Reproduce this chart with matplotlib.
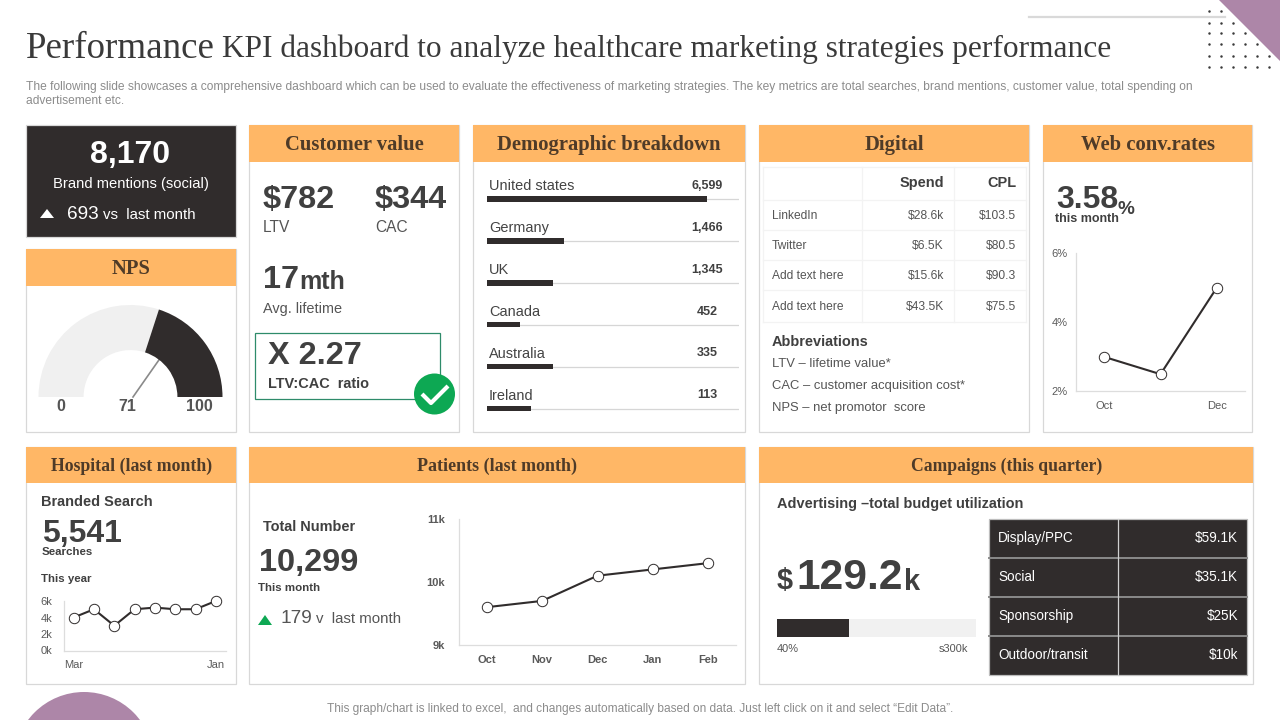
import matplotlib
matplotlib.use('Agg')
import matplotlib.pyplot as plt
from matplotlib.patches import Rectangle, Polygon, Circle

plt.rcParams['font.family'] = ['Liberation Sans', 'DejaVu Sans']

ORANGE = '#FFB766'
DARK = '#302C2C'
TEXT = '#404040'
BORDER = '#D8D8D8'
HEAD = '#4F3B28'
GREY = '#8C8C8C'
PURPLE = '#AD86A8'
GREEN = '#0DA853'

# data
gauge_parts = [60, 40, 100]  # light, dark, hidden lower half
gauge_labels = ['0', '71', '100']

demo_names = ['United states', 'Germany', 'UK', 'Canada', 'Australia', 'Ireland']
demo_values = ['6,599', '1,466', '1,345', '452', '335', '113']
demo_bars = [87.3, 30.6, 26.2, 13.1, 26.2, 17.5]

digital_names = ['LinkedIn', 'Twitter', 'Add text here', 'Add text here']
digital_spend = ['$28.6k', '$6.5K', '$15.6k', '$43.5K']
digital_cpl = ['$103.5', '$80.5', '$90.3', '$75.5']
abbreviations = ['LTV – lifetime value*', 'CAC – customer acquisition cost*', 'NPS – net promotor  score']

web_months = ['Oct', '', 'Dec']
web_rates = [3.0, 2.5, 5.0]

search_months = ['Mar', '', '', '', '', '', '', 'Jan']
search_values = [4, 5, 3, 5, 5.2, 5, 5, 6]

patient_months = ['Oct', 'Nov', 'Dec', 'Jan', 'Feb']
patient_values = [9.6, 9.7, 10.1, 10.2, 10.3]

budget_used = 36
campaign_names = ['Display/PPC', 'Social', 'Sponsorship', 'Outdoor/transit']
campaign_spend = ['$59.1K', '$35.1K', '$25K', '$10k']

fig = plt.figure(figsize=(12.8, 7.2), dpi=100, facecolor='white')

# full-figure axes in pixel coordinates for the slide furniture
bg = fig.add_axes([0, 0, 1, 1])
bg.set_xlim(0, 1280)
bg.set_ylim(720, 0)
bg.axis('off')


def txt(x, y, s, px, color=TEXT, weight='normal', ha='left', family=None):
    return bg.text(x, y + px * 0.07, s, fontsize=px * 0.72, color=color, fontweight=weight, ha=ha,
                   va='center', family=family or ['Liberation Sans', 'DejaVu Sans'], zorder=5)


def panel(l, t, r, b, title=None, head_b=None, px=20.6):
    r -= 0.7
    b -= 0.5
    bg.add_patch(Rectangle((l, t), r - l, b - t, fc='white', ec=BORDER, lw=0.9))
    if title:
        bg.add_patch(Rectangle((l, t), r - l, head_b - t, fc=ORANGE, ec='none', zorder=2))
        txt((l + r) / 2, (t + head_b) / 2, title, px, HEAD, 'bold', 'center', 'Liberation Serif')


def px_axes(l, t, r, b):
    ax = fig.add_axes([l / 1280, 1 - b / 720, (r - l) / 1280, (b - t) / 720])
    ax.patch.set_alpha(0)
    return ax


def line_chart(box, months, values, ylim, yticks, ylabels, xpad, ypad, bold=False):
    ax = px_axes(*box)
    xs = list(range(len(months)))
    ax.plot(xs, values, color=DARK, lw=1.5, marker='o', ms=7.5, mfc='white', mec=DARK, mew=0.7,
            clip_on=False)
    ax.set_xlim(-0.5, len(months) - 0.5)
    ax.set_ylim(*ylim)
    ax.set_xticks(xs)
    ax.set_xticklabels(months, fontweight='bold' if bold else 'normal')
    ax.set_yticks(yticks)
    ax.set_yticklabels(ylabels, fontweight='bold' if bold else 'normal')
    ax.tick_params(length=0, labelsize=8, labelcolor='#5A5A5A')
    ax.tick_params(axis='x', pad=xpad)
    ax.tick_params(axis='y', pad=ypad)
    for side in ['top', 'right']:
        ax.spines[side].set_visible(False)
    for side in ['left', 'bottom']:
        ax.spines[side].set_color('#DDDDDD')
        ax.spines[side].set_linewidth(0.9)
    return ax


# decoration
bg.plot([1029, 1225], [17, 17], color='#D9D9D9', lw=1.6)
for row_y in [11, 23, 33, 44, 56, 67]:
    bg.scatter([1209, 1221, 1233, 1245, 1257, 1269], [row_y] * 6, s=3.2, color='#3A3A3A', lw=0, zorder=2)
bg.add_patch(Polygon([(1219, 0), (1280, 0), (1280, 61)], fc=PURPLE, ec='none', zorder=3))
bg.add_patch(Circle((84, 762), 70, fc=PURPLE, ec='none'))

# title and intro
txt(26, 46, 'Performance', 37, '#3A3A3A', family='Liberation Serif')
txt(222, 47, 'KPI dashboard to analyze healthcare marketing strategies performance', 31.4, '#3A3A3A',
    family='Liberation Serif')
txt(26, 86, 'The following slide showcases a comprehensive dashboard which can be used to evaluate the '
    'effectiveness of marketing strategies. The key metrics are total searches, brand mentions, customer '
    'value, total spending on', 12, GREY)
txt(26, 100, 'advertisement etc.', 12, GREY)

# brand mentions box
bg.add_patch(Rectangle((26, 125), 209.5, 111.5, fc=DARK, ec=BORDER, lw=0.9))
txt(130.5, 152.5, '8,170', 32, 'white', 'bold', 'center')
txt(130.5, 183, 'Brand mentions (social)', 14.7, 'white', ha='center')
bg.add_patch(Polygon([(40, 218), (54, 218), (47, 209)], fc='white', ec='none', zorder=5))
txt(67, 213, '693', 19, 'white')
txt(103, 214, 'vs  last month', 15, 'white')

# NPS
panel(26, 249, 237, 432, 'NPS', 286)
gauge = px_axes(38.5, 305, 222.5, 489)
gauge.pie(gauge_parts, colors=['#F0F0F0', DARK, 'none'], startangle=180, counterclock=False, radius=1,
          wedgeprops=dict(width=0.49, lw=0))
gauge.set_xlim(-1, 1)
gauge.set_ylim(-1, 1)
bg.set_zorder(0)
gauge.set_zorder(1)
for x, label in zip([61, 127, 199], gauge_labels):
    txt(x, 405, label, 16, '#555555', 'bold', 'center')

# Customer value
panel(249, 125, 460, 432, 'Customer value', 162)
txt(263, 197.5, '$782', 32.5, TEXT, 'bold')
txt(375, 197.5, '$344', 32.5, TEXT, 'bold')
txt(263, 226, 'LTV', 15.5, '#555555')
txt(375, 226, 'CAC', 15.5, '#555555')
txt(263, 278, '17', 32.5, TEXT, 'bold')
txt(299, 280, 'mth', 25, TEXT, 'bold')
txt(263, 308, 'Avg. lifetime', 14.5, '#555555')
bg.add_patch(Rectangle((254.5, 332.5), 185, 66, fc='white', ec='#2E8B6A', lw=0.9, zorder=3))
txt(268, 354, 'X 2.27', 32.5, TEXT, 'bold')
txt(268, 383, 'LTV:CAC  ratio', 14.5, TEXT, 'bold')
bg.add_patch(Circle((434.5, 394), 20.5, fc=GREEN, ec='none', zorder=6))
bg.plot([422, 431, 448], [394, 403, 386], color='white', lw=3, zorder=7, solid_capstyle='butt')

# Demographic breakdown
panel(473, 125, 746, 432, 'Demographic breakdown', 162)
demo = px_axes(487, 178, 739, 429.5)
rows = list(range(len(demo_names)))
demo.hlines(rows, 0, 100, color='#D6D6D6', lw=0.9, zorder=1)
demo.barh(rows, demo_bars, height=0.13, color=DARK, zorder=2)
demo.set_xlim(0, 100)
demo.set_ylim(5.5, -0.5)
demo.axis('off')
for i, (name, value) in enumerate(zip(demo_names, demo_values)):
    y = 185 + i * 41.9
    txt(489, y, name, 14.5, '#444444')
    txt(707, y, value, 12.5, TEXT, 'bold', 'center')

# Digital
panel(759, 125, 1030, 432, 'Digital', 162)
for x in [763, 862, 953.5, 1026]:
    bg.plot([x, x], [167, 322], color='#F3F3F3', lw=0.9)
for y in [167, 200, 230, 260, 290, 322]:
    bg.plot([763, 1026], [y, y], color='#F3F3F3', lw=0.9)
txt(944, 182, 'Spend', 14.5, TEXT, 'bold', 'right')
txt(1016, 182, 'CPL', 14.5, TEXT, 'bold', 'right')
for y, name, spend, cpl in zip([215, 245, 275, 306], digital_names, digital_spend, digital_cpl):
    txt(772, y, name, 12, '#555555')
    txt(944, y, spend, 12, '#555555', ha='right')
    txt(1016, y, cpl, 12, '#555555', ha='right')
txt(772, 341, 'Abbreviations', 14.5, TEXT, 'bold')
for y, line in zip([363, 385, 407], abbreviations):
    txt(772, y, line, 13, '#555555')

# Web conv.rates
panel(1043, 125, 1253, 432, 'Web conv.rates', 162)
txt(1056, 197.5, '3.58', 32, TEXT, 'bold')
txt(1118, 208, '%', 19, TEXT, 'bold')
txt(1055, 218, 'this month', 12.5, TEXT, 'bold')
line_chart((1076, 253, 1245, 391.5), web_months, web_rates, (2, 6), [2, 4, 6], ['2%', '4%', '6%'], 6.5, 6)

# Hospital
panel(26, 447, 237, 684, 'Hospital (last month)', 483, 17.7)
txt(41, 501, 'Branded Search', 14.5, TEXT, 'bold')
txt(42, 532, '5,541', 32, TEXT, 'bold')
txt(42, 551, 'Searches', 11.5, TEXT, 'bold')
txt(41, 578, 'This year', 11.5, TEXT, 'bold')
line_chart((63.5, 601, 226, 650.5), search_months, search_values, (0, 6), [0, 2, 4, 6],
           ['0k', '2k', '4k', '6k'], 6.5, 8)

# Patients
panel(249, 447, 746, 684, 'Patients (last month)', 483, 18)
txt(263, 526, 'Total Number', 14.5, TEXT, 'bold')
txt(259, 560.5, '10,299', 32.5, TEXT, 'bold')
txt(258, 587, 'This month', 11.5, TEXT, 'bold')
bg.add_patch(Polygon([(258, 625), (272, 625), (265, 615)], fc=GREEN, ec='none', zorder=5))
txt(281, 617, '179', 19, '#555555')
txt(316, 618, 'v  last month', 15, '#555555')
line_chart((459, 519, 736, 645), patient_months, patient_values, (9, 11), [9, 10, 11], ['9k', '10k', '11k'],
           7, 10, bold=True)

# Campaigns
panel(759, 447, 1254, 684, 'Campaigns (this quarter)', 483, 17.6)
txt(777, 503, 'Advertising –total budget utilization', 14.5, TEXT, 'bold')
txt(777, 579, '$', 29, TEXT, 'bold')
txt(796, 575, '129.2', 42.5, TEXT, 'bold')
txt(904, 580, 'k', 29, TEXT, 'bold')
budget = px_axes(777, 619, 976, 637)
budget.barh([0], [100], height=1, color='#F1F1F1')
budget.barh([0], [budget_used], height=1, color=DARK)
budget.set_xlim(0, 100)
budget.set_ylim(-0.5, 0.5)
budget.axis('off')
txt(777, 648, '40%', 11, '#555555')
txt(968, 648, 's300k', 11, '#555555', ha='right')

bg.add_patch(Rectangle((989, 519), 258, 156, fc=DARK, ec='#BDBDBD', lw=0.9, zorder=3))
for i, (name, spend) in enumerate(zip(campaign_names, campaign_spend)):
    y = 537.5 + i * 39
    txt(998, y, name, 13.5, 'white')
    txt(1238, y, spend, 13.5, 'white', ha='right')
    if i:
        bg.plot([989, 1247], [519 + i * 39] * 2, color='#8A8A8A', lw=1.4, zorder=4)
bg.plot([1118, 1118], [519, 675], color='#D0D0D0', lw=0.9, zorder=4)

# footer
txt(640, 708, 'This graph/chart is linked to excel,  and changes automatically based on data. '
    'Just left click on it and select “Edit Data”.', 11.9, GREY, ha='center')

# gauge needle, above the pie
needle = fig.add_axes([0, 0, 1, 1])
needle.set_xlim(0, 1280)
needle.set_ylim(720, 0)
needle.axis('off')
needle.patch.set_alpha(0)
needle.plot([133, 161], [397, 357], color='#8A8A8A', lw=1.2)

fig.savefig('out.png', dpi=100)
